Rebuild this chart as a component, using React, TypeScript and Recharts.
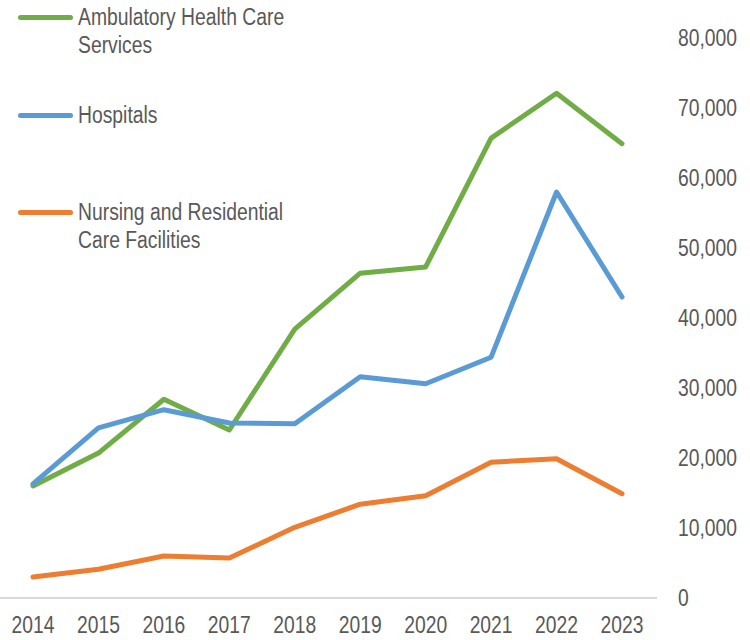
import { LineChart, Line, XAxis, YAxis } from "recharts";

const years = ["2014", "2015", "2016", "2017", "2018", "2019", "2020", "2021", "2022", "2023"];
const ambulatory = [16000, 20700, 28400, 24000, 38400, 46400, 47300, 65700, 72100, 64900];
const hospitals = [16300, 24300, 26900, 25000, 24900, 31600, 30600, 34400, 58000, 43000];
const nursing = [3000, 4100, 6000, 5700, 10100, 13400, 14600, 19400, 19900, 14900];
const yTicks = [0, 10000, 20000, 30000, 40000, 50000, 60000, 70000, 80000];

const data = years.map((year, i) => ({
  year,
  ambulatory: ambulatory[i],
  hospitals: hospitals[i],
  nursing: nursing[i],
}));

const FONT = '"Liberation Sans", Arial, sans-serif';
const TEXT = "#595959";
const SQUEEZE = 0.84; // reference text is horizontally narrow

const legendItems = [
  { lines: ["Ambulatory Health Care", "Services"], color: "#70AD47", top: 0 },
  { lines: ["Hospitals"], color: "#5B9BD5", top: 98 },
  { lines: ["Nursing and Residential", "Care Facilities"], color: "#ED7D31", top: 195 },
];

const ChartLegend = () => (
  <div style={{ position: "absolute", left: 18, top: 3, width: 320 }}>
    {legendItems.map((item) => (
      <div
        key={item.color}
        style={{ position: "absolute", left: 0, top: item.top, display: "flex", alignItems: "flex-start" }}
      >
        <div
          style={{
            width: 55,
            height: 5,
            borderRadius: 3,
            background: item.color,
            marginTop: 12,
            marginRight: 5,
            flexShrink: 0,
          }}
        />
        <div
          style={{
            fontFamily: FONT,
            fontSize: 23,
            color: TEXT,
            lineHeight: "28px",
            whiteSpace: "nowrap",
            transform: `scaleX(${SQUEEZE})`,
            transformOrigin: "left top",
          }}
        >
          {item.lines.map((l) => (
            <div key={l}>{l}</div>
          ))}
        </div>
      </div>
    ))}
  </div>
);

const XTick = ({ x, y, payload }: any) => (
  <text
    transform={`translate(${x},${y}) scale(${SQUEEZE},1)`}
    textAnchor="middle"
    dy="0.71em"
    fill={TEXT}
    fontSize={23}
    fontFamily={FONT}
  >
    {payload.value}
  </text>
);

const YTick = ({ x, y, payload }: any) => (
  <text
    transform={`translate(${x},${y}) scale(${SQUEEZE},1)`}
    textAnchor="start"
    dy="0.355em"
    fill={TEXT}
    fontSize={23}
    fontFamily={FONT}
  >
    {Number(payload.value).toLocaleString("en-US")}
  </text>
);

export default function App() {
  return (
    <div style={{ position: "absolute", left: 0, top: 0, width: 750, height: 640, background: "#fff" }}>
      <LineChart width={750} height={640} data={data} margin={{ top: 38, right: 0, bottom: 0, left: 0 }}>
        <XAxis
          dataKey="year"
          height={42}
          padding={{ left: 33, right: 35 }}
          axisLine={{ stroke: "#d9d9d9", strokeWidth: 2 }}
          tickLine={false}
          tickSize={0}
          tickMargin={19}
          tick={<XTick />}
          interval={0}
        />
        <YAxis
          orientation="right"
          width={93}
          domain={[0, 80000]}
          ticks={yTicks}
          axisLine={false}
          tickLine={false}
          tickSize={0}
          tickMargin={21}
          tick={<YTick />}
        />
        <Line
          dataKey="ambulatory"
          stroke="#70AD47"
          strokeWidth={5}
          dot={false}
          strokeLinecap="round"
          strokeLinejoin="round"
          isAnimationActive={false}
        />
        <Line
          dataKey="hospitals"
          stroke="#5B9BD5"
          strokeWidth={5}
          dot={false}
          strokeLinecap="round"
          strokeLinejoin="round"
          isAnimationActive={false}
        />
        <Line
          dataKey="nursing"
          stroke="#ED7D31"
          strokeWidth={5}
          dot={false}
          strokeLinecap="round"
          strokeLinejoin="round"
          isAnimationActive={false}
        />
      </LineChart>
      <ChartLegend />
    </div>
  );
}
